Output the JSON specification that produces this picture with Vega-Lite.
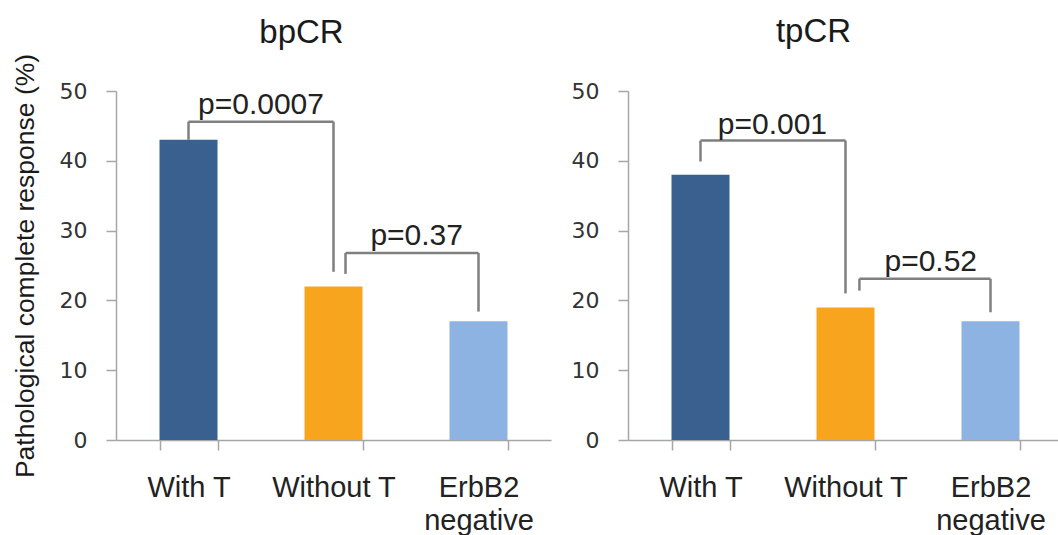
{
  "$schema": "https://vega.github.io/schema/vega-lite/v6.json",
  "background": "white",
  "padding": {"left": 12, "top": 15, "right": 0, "bottom": 0},
  "spacing": 20,
  "config": {"view": {"stroke": null}, "font": "Liberation Sans"},
  "datasets": {
    "bars": [
      {"panel": "bpCR", "group": "With T", "value": 43},
      {"panel": "bpCR", "group": "Without T", "value": 22},
      {"panel": "bpCR", "group": "ErbB2 negative", "value": 17},
      {"panel": "tpCR", "group": "With T", "value": 38},
      {"panel": "tpCR", "group": "Without T", "value": 19},
      {"panel": "tpCR", "group": "ErbB2 negative", "value": 17}
    ],
    "hlines": [
      {"panel": "bpCR", "pair": 1, "from": "With T", "to": "Without T", "top": 45.6},
      {"panel": "bpCR", "pair": 2, "from": "Without T", "to": "ErbB2 negative", "top": 26.8},
      {"panel": "tpCR", "pair": 1, "from": "With T", "to": "Without T", "top": 42.9},
      {"panel": "tpCR", "pair": 2, "from": "Without T", "to": "ErbB2 negative", "top": 23.1}
    ],
    "legs": [
      {"panel": "bpCR", "kind": "center", "at": "With T", "top": 45.6, "end": 43},
      {"panel": "bpCR", "kind": "center", "at": "Without T", "top": 45.6, "end": 24.1},
      {"panel": "bpCR", "kind": "offset", "at": "Without T", "top": 26.8, "end": 23.8},
      {"panel": "bpCR", "kind": "center", "at": "ErbB2 negative", "top": 26.8, "end": 18.4},
      {"panel": "tpCR", "kind": "center", "at": "With T", "top": 42.9, "end": 39.9},
      {"panel": "tpCR", "kind": "center", "at": "Without T", "top": 42.9, "end": 21.0},
      {"panel": "tpCR", "kind": "offset", "at": "Without T", "top": 23.1, "end": 21.4},
      {"panel": "tpCR", "kind": "center", "at": "ErbB2 negative", "top": 23.1, "end": 18.3}
    ],
    "labels": [
      {"panel": "bpCR", "pair": 1, "at": "Without T", "top": 45.6, "label": "p=0.0007"},
      {"panel": "bpCR", "pair": 2, "at": "ErbB2 negative", "top": 26.8, "label": "p=0.37"},
      {"panel": "tpCR", "pair": 1, "at": "Without T", "top": 42.9, "label": "p=0.001"},
      {"panel": "tpCR", "pair": 2, "at": "ErbB2 negative", "top": 23.1, "label": "p=0.52"}
    ]
  },
  "hconcat": [
    {
      "width": 435,
      "height": 349,
      "title": {"text": "bpCR", "frame": "group", "dx": -32, "fontSize": 33, "fontWeight": "normal", "font": "Liberation Sans", "color": "#1a1a1a", "offset": 3.5},
      "layer": [
        {
          "data": {"name": "bars"},
          "transform": [{"filter": "datum.panel === 'bpCR'"}],
          "mark": {"type": "bar"},
          "encoding": {
            "x": {"field": "group", "type": "nominal",
              "scale": {"domain": ["With T", "Without T", "ErbB2 negative"], "paddingInner": 0.6, "paddingOuter": 0.3},
              "axis": {"title": null, "labelAngle": 0, "tickBand": "extent", "domainColor": "#A6A6A6", "domainWidth": 1.5, "tickColor": "#A6A6A6", "tickWidth": 1.5, "tickSize": 10, "labelFont": "Liberation Sans", "labelFontSize": 29, "labelColor": "#222222", "labelPadding": 23, "labelLineHeight": 33, "labelOverlap": false, "labelExpr": "datum.value == 'ErbB2 negative' ? ['ErbB2', 'negative'] : datum.value"}},
            "y": {"field": "value", "type": "quantitative",
              "scale": {"domain": [0, 50], "nice": false},
              "axis": {"values": [0, 10, 20, 30, 40, 50], "grid": false, "domainColor": "#A6A6A6", "domainWidth": 1.5, "tickColor": "#A6A6A6", "tickWidth": 1.5, "tickSize": 10, "labelFont": "DejaVu Sans", "labelFontSize": 22, "labelColor": "#333333", "labelPadding": 19, "title": "Pathological complete response (%)", "titleFont": "Liberation Sans", "titleFontSize": 26.5, "titleFontWeight": "normal", "titleColor": "#1a1a1a", "titlePadding": 20}},
            "color": {"field": "group", "type": "nominal", "scale": {"domain": ["With T", "Without T", "ErbB2 negative"], "range": ["#3A6090", "#F7A51E", "#8DB3E2"]}, "legend": null}
          }
        },
        {
          "data": {"name": "hlines"},
          "transform": [{"filter": "datum.panel === 'bpCR' && datum.pair === 1"}],
          "mark": {"type": "rule", "color": "#7F7F7F", "strokeWidth": 2.5},
          "encoding": {
            "x": {"field": "from", "type": "nominal", "bandPosition": 0.5},
            "x2": {"field": "to", "bandPosition": 0.5},
            "y": {"field": "top", "type": "quantitative"}
          }
        },
        {
          "data": {"name": "hlines"},
          "transform": [{"filter": "datum.panel === 'bpCR' && datum.pair === 2"}],
          "mark": {"type": "rule", "color": "#7F7F7F", "strokeWidth": 2.5},
          "encoding": {
            "x": {"field": "from", "type": "nominal", "bandPosition": 0.707},
            "x2": {"field": "to", "bandPosition": 0.5},
            "y": {"field": "top", "type": "quantitative"}
          }
        },
        {
          "data": {"name": "legs"},
          "transform": [{"filter": "datum.panel === 'bpCR' && datum.kind === 'center'"}],
          "mark": {"type": "rule", "color": "#7F7F7F", "strokeWidth": 2.5},
          "encoding": {
            "x": {"field": "at", "type": "nominal", "bandPosition": 0.5},
            "y": {"field": "top", "type": "quantitative"},
            "y2": {"field": "end"}
          }
        },
        {
          "data": {"name": "legs"},
          "transform": [{"filter": "datum.panel === 'bpCR' && datum.kind === 'offset'"}],
          "mark": {"type": "rule", "color": "#7F7F7F", "strokeWidth": 2.5},
          "encoding": {
            "x": {"field": "at", "type": "nominal", "bandPosition": 0.707},
            "y": {"field": "top", "type": "quantitative"},
            "y2": {"field": "end"}
          }
        },
        {
          "data": {"name": "labels"},
          "transform": [{"filter": "datum.panel === 'bpCR' && datum.pair === 1"}],
          "mark": {"type": "text", "font": "Liberation Sans", "fontSize": 30, "color": "#222222", "baseline": "alphabetic", "dy": -8},
          "encoding": {
            "x": {"field": "at", "type": "nominal", "bandPosition": -0.75},
            "y": {"field": "top", "type": "quantitative"},
            "text": {"field": "label"}
          }
        },
        {
          "data": {"name": "labels"},
          "transform": [{"filter": "datum.panel === 'bpCR' && datum.pair === 2"}],
          "mark": {"type": "text", "font": "Liberation Sans", "fontSize": 30, "color": "#222222", "baseline": "alphabetic", "dy": -8},
          "encoding": {
            "x": {"field": "at", "type": "nominal", "bandPosition": -0.566},
            "y": {"field": "top", "type": "quantitative"},
            "text": {"field": "label"}
          }
        }
      ]
    },
    {
      "width": 435,
      "height": 349,
      "title": {"text": "tpCR", "frame": "group", "dx": -32, "fontSize": 33, "fontWeight": "normal", "font": "Liberation Sans", "color": "#1a1a1a", "offset": 31.5},
      "layer": [
        {
          "data": {"name": "bars"},
          "transform": [{"filter": "datum.panel === 'tpCR'"}],
          "mark": {"type": "bar"},
          "encoding": {
            "x": {"field": "group", "type": "nominal",
              "scale": {"domain": ["With T", "Without T", "ErbB2 negative"], "paddingInner": 0.6, "paddingOuter": 0.3},
              "axis": {"title": null, "labelAngle": 0, "tickBand": "extent", "domainColor": "#A6A6A6", "domainWidth": 1.5, "tickColor": "#A6A6A6", "tickWidth": 1.5, "tickSize": 10, "labelFont": "Liberation Sans", "labelFontSize": 29, "labelColor": "#222222", "labelPadding": 23, "labelLineHeight": 33, "labelOverlap": false, "labelExpr": "datum.value == 'ErbB2 negative' ? ['ErbB2', 'negative'] : datum.value"}},
            "y": {"field": "value", "type": "quantitative",
              "scale": {"domain": [0, 50], "nice": false},
              "axis": {"values": [0, 10, 20, 30, 40, 50], "grid": false, "domainColor": "#A6A6A6", "domainWidth": 1.5, "tickColor": "#A6A6A6", "tickWidth": 1.5, "tickSize": 10, "labelFont": "DejaVu Sans", "labelFontSize": 22, "labelColor": "#333333", "labelPadding": 19, "title": null}},
            "color": {"field": "group", "type": "nominal", "scale": {"domain": ["With T", "Without T", "ErbB2 negative"], "range": ["#3A6090", "#F7A51E", "#8DB3E2"]}, "legend": null}
          }
        },
        {
          "data": {"name": "hlines"},
          "transform": [{"filter": "datum.panel === 'tpCR' && datum.pair === 1"}],
          "mark": {"type": "rule", "color": "#7F7F7F", "strokeWidth": 2.5},
          "encoding": {
            "x": {"field": "from", "type": "nominal", "bandPosition": 0.5},
            "x2": {"field": "to", "bandPosition": 0.5},
            "y": {"field": "top", "type": "quantitative"}
          }
        },
        {
          "data": {"name": "hlines"},
          "transform": [{"filter": "datum.panel === 'tpCR' && datum.pair === 2"}],
          "mark": {"type": "rule", "color": "#7F7F7F", "strokeWidth": 2.5},
          "encoding": {
            "x": {"field": "from", "type": "nominal", "bandPosition": 0.74},
            "x2": {"field": "to", "bandPosition": 0.5},
            "y": {"field": "top", "type": "quantitative"}
          }
        },
        {
          "data": {"name": "legs"},
          "transform": [{"filter": "datum.panel === 'tpCR' && datum.kind === 'center'"}],
          "mark": {"type": "rule", "color": "#7F7F7F", "strokeWidth": 2.5},
          "encoding": {
            "x": {"field": "at", "type": "nominal", "bandPosition": 0.5},
            "y": {"field": "top", "type": "quantitative"},
            "y2": {"field": "end"}
          }
        },
        {
          "data": {"name": "legs"},
          "transform": [{"filter": "datum.panel === 'tpCR' && datum.kind === 'offset'"}],
          "mark": {"type": "rule", "color": "#7F7F7F", "strokeWidth": 2.5},
          "encoding": {
            "x": {"field": "at", "type": "nominal", "bandPosition": 0.74},
            "y": {"field": "top", "type": "quantitative"},
            "y2": {"field": "end"}
          }
        },
        {
          "data": {"name": "labels"},
          "transform": [{"filter": "datum.panel === 'tpCR' && datum.pair === 1"}],
          "mark": {"type": "text", "font": "Liberation Sans", "fontSize": 30, "color": "#222222", "baseline": "alphabetic", "dy": -7},
          "encoding": {
            "x": {"field": "at", "type": "nominal", "bandPosition": -0.76},
            "y": {"field": "top", "type": "quantitative"},
            "text": {"field": "label"}
          }
        },
        {
          "data": {"name": "labels"},
          "transform": [{"filter": "datum.panel === 'tpCR' && datum.pair === 2"}],
          "mark": {"type": "text", "font": "Liberation Sans", "fontSize": 30, "color": "#222222", "baseline": "alphabetic", "dy": -8},
          "encoding": {
            "x": {"field": "at", "type": "nominal", "bandPosition": -0.53},
            "y": {"field": "top", "type": "quantitative"},
            "text": {"field": "label"}
          }
        }
      ]
    }
  ]
}
